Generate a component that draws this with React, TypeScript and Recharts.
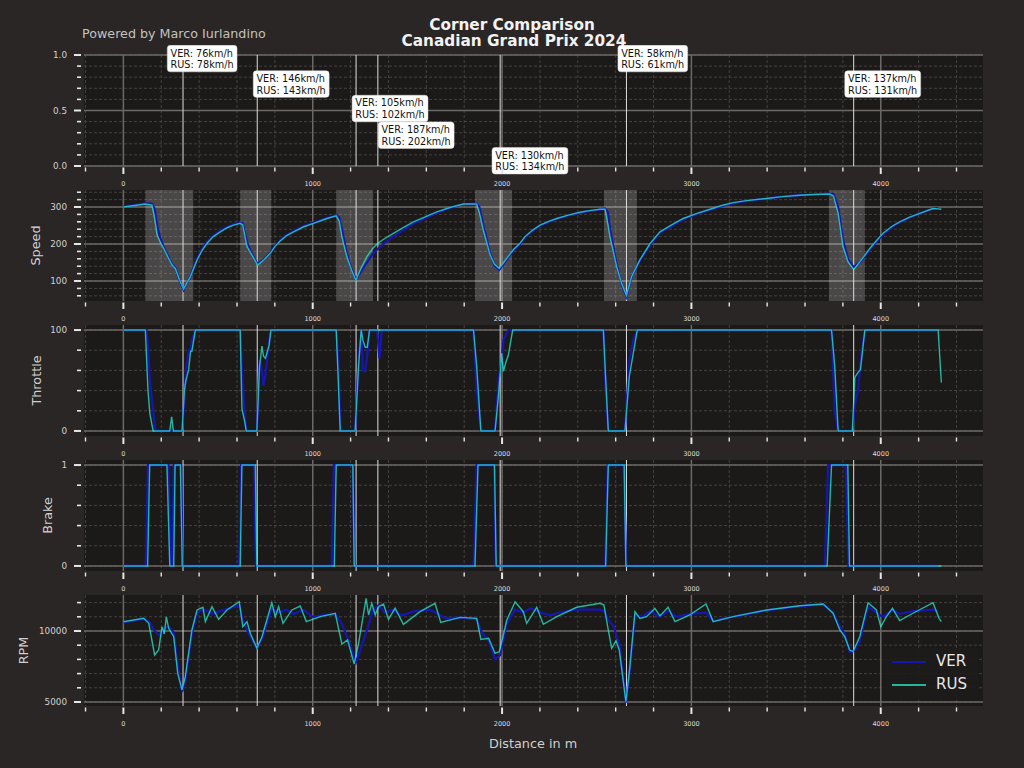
import React from 'react';
import {
  LineChart,
  Line,
  XAxis,
  YAxis,
  CartesianGrid,
  ReferenceLine,
  ReferenceArea,
  ReferenceDot,
  Legend,
} from 'recharts';

// ---------------- DATA ----------------
const cornerDistances = [315, 707, 1229, 1344, 1990, 2657, 3857];
const cornerVER = [76, 146, 105, 187, 130, 58, 137];
const cornerRUS = [78, 143, 102, 202, 134, 61, 131];
const labelX = [232, 686, 1208, 1346, 1947, 2612, 3810];
const labelY = [0.97, 0.74, 0.52, 0.28, 0.05, 0.97, 0.74];

const zoneStarts = [116, 617, 1124, 1857, 2538, 3726];
const zoneEnds = [369, 781, 1319, 2053, 2712, 3916];

const xMinorTicks = [-200, 0, 200, 400, 600, 800, 1000, 1200, 1400, 1600, 1800, 2000, 2200, 2400, 2600, 2800, 3000, 3200, 3400, 3600, 3800, 4000, 4200, 4400];
const xMajorTicks = [0, 1000, 2000, 3000, 4000];

const driverOrder = ['VER', 'RUS'];

const speedDist = [0, 60, 116, 151, 165, 178, 195, 213, 235, 257, 274, 295, 318, 335, 354, 389, 415, 442, 475, 512, 548, 582, 617, 630, 653, 679, 709, 741, 776, 800, 828, 860, 899, 950, 1004, 1075, 1124, 1140, 1154, 1180, 1205, 1228, 1251, 1286, 1320, 1344, 1380, 1426, 1480, 1532, 1600, 1655, 1720, 1796, 1866, 1880, 1901, 1937, 1960, 1985, 2025, 2060, 2095, 2121, 2160, 2200, 2250, 2289, 2350, 2412, 2470, 2517, 2544, 2560, 2570, 2605, 2631, 2657, 2684, 2728, 2780, 2834, 2900, 2957, 3030, 3098, 3160, 3220, 3300, 3397, 3480, 3573, 3650, 3731, 3750, 3775, 3801, 3827, 3857, 3898, 3942, 3980, 4012, 4060, 4100, 4150, 4206, 4276, 4303, 4320];
const speedRUS = [300, 304, 308, 305, 270, 224, 205, 188, 165, 143, 134, 105, 78, 95, 112, 157, 182, 202, 220, 233, 244, 251, 256, 252, 193, 170, 143, 157, 175, 193, 208, 222, 233, 246, 256, 269, 276, 262, 220, 166, 130, 102, 130, 166, 190, 202, 215, 229, 245, 260, 275, 287, 298, 308, 308, 285, 238, 170, 145, 134, 161, 185, 202, 220, 237, 251, 262, 269, 278, 286, 291, 294, 294, 250, 220, 139, 94, 61, 112, 157, 200, 233, 253, 269, 283, 294, 304, 312, 318, 323, 328, 332, 334, 335, 330, 283, 193, 152, 131, 157, 188, 211, 229, 248, 260, 272, 283, 296, 295, 294];
const speedVER = [301, 306, 310, 309, 295, 250, 215, 192, 168, 145, 136, 104, 76, 95, 113, 160, 186, 206, 223, 236, 246, 253, 257, 256, 205, 172, 146, 158, 176, 195, 210, 223, 235, 248, 258, 270, 277, 272, 240, 175, 132, 105, 122, 150, 175, 187, 203, 220, 238, 255, 271, 284, 297, 308, 309, 300, 250, 175, 142, 130, 158, 183, 200, 217, 235, 249, 261, 268, 277, 285, 290, 293, 296, 285, 240, 145, 92, 58, 112, 155, 196, 230, 250, 266, 281, 292, 302, 310, 317, 323, 328, 332, 334, 336, 335, 300, 210, 160, 137, 155, 185, 208, 226, 246, 259, 271, 283, 296, 297, null];

const throttleDist = [0, 116, 122, 130, 140, 157, 170, 245, 255, 264, 274, 310, 322, 330, 345, 355, 362, 380, 617, 626, 640, 649, 705, 719, 732, 740, 750, 770, 779, 1124, 1135, 1145, 1150, 1224, 1242, 1256, 1265, 1277, 1288, 1300, 1340, 1352, 1365, 1849, 1866, 1888, 1963, 1981, 1998, 2007, 2020, 2033, 2056, 2535, 2545, 2561, 2649, 2672, 2693, 2714, 3740, 3757, 3775, 3850, 3863, 3880, 3893, 3916, 4303, 4320];
const throttleRUS = [100, 100, 74, 40, 17, 0, 0, 0, 14, 0, 0, 0, 40, 50, 61, 79, 79, 100, 100, 22, 10, 0, 0, 64, 84, 74, 72, 85, 100, 100, 50, 0, 0, 0, 64, 100, 90, 83, 83, 100, 100, 100, 100, 100, 64, 0, 0, 35, 77, 59, 68, 75, 100, 100, 60, 0, 0, 54, 77, 100, 100, 64, 0, 0, 53, 58, 61, 100, 100, 48];
const throttleVER = [100, 100, 100, 85, 50, 20, 0, 0, 0, 0, 0, 0, 30, 60, 80, 80, 90, 100, 100, 60, 20, 0, 0, 70, 60, 45, 55, 90, 100, 100, 70, 10, 0, 0, 70, 100, 60, 59, 75, 100, 100, 72, 100, 100, 40, 0, 0, 50, 70, 90, 95, 100, 100, 100, 50, 0, 0, 70, 90, 100, 100, 20, 0, 0, 26, 40, 70, 100, 100, null];

const brakeDistRUS = [0, 128, 139, 230, 245, 266, 273, 301, 311, 617, 626, 697, 705, 1114, 1124, 1212, 1219, 1857, 1873, 1960, 1969, 2547, 2561, 2645, 2654, 3717, 3740, 3826, 3835, 4320];
const brakeRUS = [0, 0, 1, 1, 0, 0, 1, 1, 0, 0, 1, 1, 0, 0, 1, 1, 0, 0, 1, 1, 0, 0, 1, 1, 0, 0, 1, 1, 0, 0];
const brakeDistVER = [0, 118, 130, 238, 250, 258, 266, 305, 313, 612, 622, 690, 700, 1100, 1112, 1212, 1220, 1850, 1866, 1958, 1967, 2545, 2558, 2642, 2656, 3705, 3722, 3815, 3830, 4303];
const brakeVER = [0, 0, 1, 1, 0, 0, 1, 1, 0, 0, 1, 1, 0, 0, 1, 1, 0, 0, 1, 1, 0, 0, 1, 1, 0, 0, 1, 1, 0, 0];

const rpmDistRUS = [0, 107, 134, 165, 186, 204, 216, 227, 239, 266, 287, 310, 327, 362, 389, 420, 433, 468, 503, 547, 612, 631, 653, 670, 705, 732, 784, 802, 820, 843, 890, 934, 966, 1040, 1119, 1154, 1184, 1219, 1242, 1282, 1295, 1312, 1330, 1347, 1374, 1400, 1435, 1479, 1567, 1646, 1676, 1778, 1866, 1888, 1929, 1963, 1986, 2025, 2069, 2112, 2130, 2183, 2218, 2289, 2394, 2517, 2538, 2561, 2579, 2602, 2619, 2654, 2675, 2702, 2728, 2763, 2807, 2834, 2877, 2913, 2992, 3077, 3115, 3220, 3397, 3573, 3696, 3748, 3784, 3810, 3836, 3854, 3889, 3933, 3977, 4000, 4030, 4062, 4100, 4170, 4276, 4308, 4320];
const rpmRUS = [10650, 10890, 10540, 8310, 8660, 10300, 9790, 11000, 10190, 9600, 7020, 5850, 6780, 10070, 11480, 11670, 10660, 11710, 10820, 11480, 12060, 10300, 10660, 9840, 8780, 9600, 11990, 11010, 11710, 10540, 11480, 11760, 10660, 11010, 11250, 9080, 9370, 7680, 9130, 12300, 11130, 11950, 11130, 11710, 11900, 10820, 11600, 10470, 11360, 11950, 10610, 10960, 10890, 9410, 9480, 8430, 8550, 10770, 12060, 11360, 10540, 11670, 10470, 11010, 11670, 11950, 11830, 10070, 8780, 9320, 8660, 5020, 7490, 11360, 10890, 11010, 11600, 11060, 11670, 10660, 11130, 11900, 10660, 11010, 11480, 11780, 11900, 11250, 10070, 9600, 8660, 8550, 9600, 11990, 11480, 10300, 11010, 11600, 10730, 11250, 11990, 10890, 10660];
const rpmDistVER = [0, 107, 134, 165, 190, 215, 240, 266, 287, 310, 327, 362, 389, 430, 470, 510, 560, 612, 631, 660, 705, 735, 784, 820, 860, 900, 950, 1000, 1050, 1119, 1154, 1190, 1228, 1260, 1290, 1320, 1347, 1380, 1420, 1470, 1540, 1620, 1700, 1778, 1866, 1888, 1929, 1963, 1990, 2025, 2069, 2110, 2150, 2200, 2260, 2300, 2394, 2517, 2540, 2561, 2590, 2620, 2654, 2675, 2702, 2740, 2780, 2830, 2880, 2920, 2992, 3077, 3115, 3220, 3397, 3573, 3696, 3748, 3784, 3810, 3836, 3860, 3889, 3933, 3977, 4010, 4062, 4100, 4170, 4276, 4300];
const rpmVER = [10600, 10850, 10700, 10000, 9700, 10200, 10300, 9900, 7600, 5700, 6500, 9800, 11300, 11500, 11200, 11400, 11600, 11800, 10800, 9900, 8800, 9500, 11600, 11300, 11500, 11200, 11500, 11000, 11100, 11200, 10500, 9300, 7800, 9000, 10200, 11500, 11800, 11300, 11500, 11100, 11400, 11500, 10900, 10950, 10850, 10000, 9300, 8000, 8300, 10500, 11500, 11300, 11600, 11300, 11100, 11300, 11500, 11500, 11400, 10800, 10300, 9000, 4950, 7300, 11100, 11000, 11400, 11000, 11400, 11000, 11200, 11300, 10700, 11000, 11450, 11750, 11880, 11300, 10300, 9800, 8500, 8600, 9300, 11700, 11300, 11000, 11500, 11200, 11400, 11500, 11400];

const topTicks = [0, 0.1, 0.2, 0.3, 0.4, 0.5, 0.6, 0.7, 0.8, 0.9, 1];
const topMajor = [0, 0.5, 1];
const speedTicks = [60, 80, 100, 120, 140, 160, 180, 200, 220, 240, 260, 280, 300, 320, 340];
const speedMajor = [100, 200, 300];
const throttleTicks = [0, 20, 40, 60, 80, 100];
const throttleMajor = [0, 100];
const brakeTicks = [0, 0.2, 0.4, 0.6, 0.8, 1];
const brakeMajor = [0, 1];
const rpmTicks = [5000, 6000, 7000, 8000, 9000, 10000, 11000, 12000];
const rpmMajor = [5000, 10000];

// ---------------- STYLE ----------------
const FONT = "'DejaVu Sans', 'Liberation Sans', sans-serif";
const FIG_BG = '#292625';
const PLOT_BG = '#1c1a19';
const VER_COLOR = '#1616b2';
const RUS_COLOR = '#27f4d2';
const RUS_OPACITY = 0.72;
const GRID_MINOR = '#4e4a48';
const GRID_MAJOR = '#6c6865';
const TICK_COLOR = '#e6e6e6';
const TEXT_COLOR = '#d2d0ce';

const X_DOMAIN: [number, number] = [-208, 4540];
const PLOT_LEFT = 84;
const RIGHT_MARGIN = 41;
const TOP_PAD = 10;
const PLOT_H = 111;
const X_AXIS_H = 30;
const CHART_W = 1024;
const CHART_H = TOP_PAD + PLOT_H + X_AXIS_H;

const rows = (dist: number[], a: (number | null)[], b?: (number | null)[]) =>
  dist.map((d, i) => (b ? { d, ver: a[i], rus: b[i] } : { d, v: a[i] }));

const speedRows = rows(speedDist, speedVER, speedRUS);
const throttleRows = rows(throttleDist, throttleVER, throttleRUS);
const brakeRowsVER = rows(brakeDistVER, brakeVER);
const brakeRowsRUS = rows(brakeDistRUS, brakeRUS);
const rpmRowsVER = rows(rpmDistVER, rpmVER);
const rpmRowsRUS = rows(rpmDistRUS, rpmRUS);
const annotationRows = cornerDistances.map((d, i) => ({ d, ver: cornerVER[i], rus: cornerRUS[i], lx: labelX[i], ly: labelY[i] }));

// ---------------- TICKS ----------------
const XTick = (props: any) => {
  const { x, y, payload } = props;
  const v = payload.value;
  const major = xMajorTicks.includes(v);
  return (
    <g>
      <line x1={x} x2={x} y1={y + 1.5} y2={major ? y + 8 : y + 5.5} stroke={TICK_COLOR} strokeWidth={major ? 2 : 1.4} />
      {major && (
        <text x={x} y={y + 20} textAnchor="middle" fontSize={6.5} fill="#dcdcdc" fontFamily={FONT}>
          {v}
        </text>
      )}
    </g>
  );
};

const makeYTick = (majors: number[], fmt: (v: number) => string) => (props: any) => {
  const { x, y, payload } = props;
  const v = payload.value;
  const major = majors.includes(v);
  return (
    <g>
      <line x1={major ? x - 10 : x - 7} x2={x - 3} y1={y} y2={y} stroke={TICK_COLOR} strokeWidth={major ? 2 : 1.6} />
      {major && (
        <text x={x - 17} y={y} dy={3.2} textAnchor="end" fontSize={8.8} fill={TEXT_COLOR} fontFamily={FONT}>
          {fmt(v)}
        </text>
      )}
    </g>
  );
};

// ---------------- ANNOTATION ----------------
const charW: Record<string, number> = {
  V: 0.684, E: 0.632, R: 0.695, U: 0.732, S: 0.635, ':': 0.337, ' ': 0.318, k: 0.579, m: 0.974, '/': 0.337, h: 0.634,
};
const textWidth = (s: string, size: number) => s.split('').reduce((a, c) => a + (charW[c] ?? 0.636), 0) * size;

const ANN_FONT = 9.7;
const AnnotationShape = (props: any) => {
  const { cx, cy, ver, rus } = props;
  const l1 = `VER: ${ver}km/h`;
  const l2 = `RUS: ${rus}km/h`;
  const w = Math.max(textWidth(l1, ANN_FONT), textWidth(l2, ANN_FONT)) + 6.5;
  return (
    <g>
      <rect x={cx} y={cy - 13} width={w} height={26.5} rx={3} ry={3} fill="#ffffff" stroke="#dddddd" strokeWidth={0.5} />
      <text x={cx + 3.2} y={cy - 1.8} fontSize={ANN_FONT} fill="#111111" fontFamily={FONT}>{l1}</text>
      <text x={cx + 3.2} y={cy + 9.8} fontSize={ANN_FONT} fill="#111111" fontFamily={FONT}>{l2}</text>
    </g>
  );
};

// ---------------- LEGEND ----------------
const LegendBox = (props: any) => {
  const payload = ([...(props.payload || [])] as any[]).sort(
    (a, b) => driverOrder.indexOf(a.value) - driverOrder.indexOf(b.value)
  );
  return (
    <div style={{ background: 'rgba(30,28,27,0.9)', borderRadius: 3, padding: '2px 6px 2px 8px', boxSizing: 'border-box' }}>
      {payload.map((p) => (
        <div key={p.value} style={{ display: 'flex', alignItems: 'center', height: 23 }}>
          <svg width={34} height={6} style={{ marginRight: 10 }}>
            <line x1={0} x2={34} y1={3} y2={3} stroke={p.color} strokeWidth={2} strokeOpacity={p.value === 'RUS' ? RUS_OPACITY : 1} />
          </svg>
          <span style={{ color: '#e8e8e8', fontSize: 15, fontFamily: FONT, lineHeight: '23px' }}>{p.value}</span>
        </div>
      ))}
    </div>
  );
};

// ---------------- PANEL ----------------
type PanelProps = {
  top: number;
  data?: any[];
  yDomain: [number, number];
  yTicks: number[];
  yMajor: number[];
  fmt: (v: number) => string;
  under?: React.ReactNode;
  children?: React.ReactNode;
};

const Panel = ({ top, data, yDomain, yTicks, yMajor, fmt, under, children }: PanelProps) => (
  <div style={{ position: 'absolute', left: 0, top: top - TOP_PAD, width: CHART_W, height: CHART_H }}>
    <LineChart width={CHART_W} height={CHART_H} data={data} margin={{ top: TOP_PAD, right: RIGHT_MARGIN, bottom: 0, left: 0 }}>
      <CartesianGrid fill={PLOT_BG} fillOpacity={1} stroke={GRID_MINOR} strokeWidth={0.8} strokeDasharray="3 2" verticalValues={xMinorTicks} horizontalValues={yTicks} />
      <CartesianGrid stroke={GRID_MAJOR} strokeWidth={1.5} verticalValues={xMajorTicks} horizontalValues={yMajor} />
      <XAxis
        dataKey="d"
        type="number"
        domain={X_DOMAIN}
        ticks={xMinorTicks}
        interval={0}
        tick={XTick}
        tickLine={false}
        axisLine={false}
        tickSize={0}
        tickMargin={0}
        height={X_AXIS_H}
        allowDataOverflow
      />
      <YAxis
        type="number"
        domain={yDomain}
        ticks={yTicks}
        interval={0}
        tick={makeYTick(yMajor, fmt)}
        tickLine={false}
        axisLine={false}
        tickSize={0}
        tickMargin={0}
        width={PLOT_LEFT}
        allowDataOverflow
      />
      {under}
      {cornerDistances.map((d) => (
        <ReferenceLine key={`c${d}`} x={d} stroke="#dedede" strokeWidth={1} />
      ))}
      {children}
    </LineChart>
  </div>
);

const verLine = (props: any = {}) => (
  <Line type="linear" name="VER" stroke={VER_COLOR} strokeWidth={2.2} dot={false} activeDot={false} isAnimationActive={false} legendType="line" {...props} />
);
const rusLine = (props: any = {}) => (
  <Line type="linear" name="RUS" stroke={RUS_COLOR} strokeOpacity={RUS_OPACITY} strokeWidth={1.4} dot={false} activeDot={false} isAnimationActive={false} legendType="line" {...props} />
);

const PANEL_TOPS = [55, 190, 325, 460, 595];

const yLabels = [
  { text: 'Speed', x: 39.5, panel: 1 },
  { text: 'Throttle', x: 41, panel: 2 },
  { text: 'Brake', x: 52, panel: 3 },
  { text: 'RPM', x: 28, panel: 4 },
];

export default function App() {
  return (
    <div style={{ position: 'absolute', left: 0, top: 0, width: 1024, height: 768, background: FIG_BG, overflow: 'hidden', fontFamily: FONT }}>
      <Panel top={PANEL_TOPS[0]} data={annotationRows} yDomain={[0, 1]} yTicks={topTicks} yMajor={topMajor} fmt={(v) => v.toFixed(1)}>
        {annotationRows.map((a) => (
          <ReferenceDot
            key={`a${a.d}`}
            x={a.lx}
            y={a.ly}
            r={0}
            ifOverflow="visible"
            shape={(p: any) => <AnnotationShape {...p} ver={a.ver} rus={a.rus} />}
          />
        ))}
      </Panel>

      <Panel
        top={PANEL_TOPS[1]}
        data={speedRows}
        yDomain={[46, 346]}
        yTicks={speedTicks}
        yMajor={speedMajor}
        fmt={(v) => String(v)}
        under={zoneStarts.map((s, i) => (
          <ReferenceArea key={`z${s}`} x1={s} x2={zoneEnds[i]} fill="#ffffff" fillOpacity={0.2} stroke="none" />
        ))}
      >
        {verLine({ dataKey: 'ver' })}
        {rusLine({ dataKey: 'rus' })}
      </Panel>

      <Panel top={PANEL_TOPS[2]} data={throttleRows} yDomain={[-5, 105]} yTicks={throttleTicks} yMajor={throttleMajor} fmt={(v) => String(v)}>
        {verLine({ dataKey: 'ver' })}
        {rusLine({ dataKey: 'rus' })}
      </Panel>

      <Panel top={PANEL_TOPS[3]} yDomain={[-0.05, 1.05]} yTicks={brakeTicks} yMajor={brakeMajor} fmt={(v) => String(v)}>
        {verLine({ dataKey: 'v', data: brakeRowsVER })}
        {rusLine({ dataKey: 'v', data: brakeRowsRUS })}
      </Panel>

      <Panel top={PANEL_TOPS[4]} yDomain={[4718, 12535]} yTicks={rpmTicks} yMajor={rpmMajor} fmt={(v) => String(v)}>
        {verLine({ dataKey: 'v', data: rpmRowsVER })}
        {rusLine({ dataKey: 'v', data: rpmRowsRUS })}
        <Legend
          layout="horizontal"
          verticalAlign="middle"
          align="center"
          wrapperStyle={{ left: 884, top: 63, width: 94, height: 50 }}
          content={(p: any) => <LegendBox payload={p.payload} />}
        />
      </Panel>

      <svg width={1024} height={768} style={{ position: 'absolute', left: 0, top: 0, pointerEvents: 'none' }}>
        <text x={512} y={29.5} textAnchor="middle" fontWeight="bold" fontSize={15.3} fill="#f2f2f2" fontFamily={FONT}>
          Corner Comparison
        </text>
        <text x={514} y={46} textAnchor="middle" fontWeight="bold" fontSize={15.3} fill="#f2f2f2" fontFamily={FONT}>
          Canadian Grand Prix 2024
        </text>
        <text x={82} y={37.5} fontSize={12.7} fill="#c4c2c0" fontFamily={FONT}>
          Powered by Marco Iurlandino
        </text>
        {yLabels.map((l) => (
          <text
            key={l.text}
            transform={`translate(${l.x}, ${PANEL_TOPS[l.panel] + PLOT_H / 2}) rotate(-90)`}
            textAnchor="middle"
            fontSize={12.8}
            fill={TEXT_COLOR}
            fontFamily={FONT}
          >
            {l.text}
          </text>
        ))}
        <text x={533} y={748} textAnchor="middle" fontSize={12.8} fill={TEXT_COLOR} fontFamily={FONT}>
          Distance in m
        </text>
      </svg>
    </div>
  );
}
